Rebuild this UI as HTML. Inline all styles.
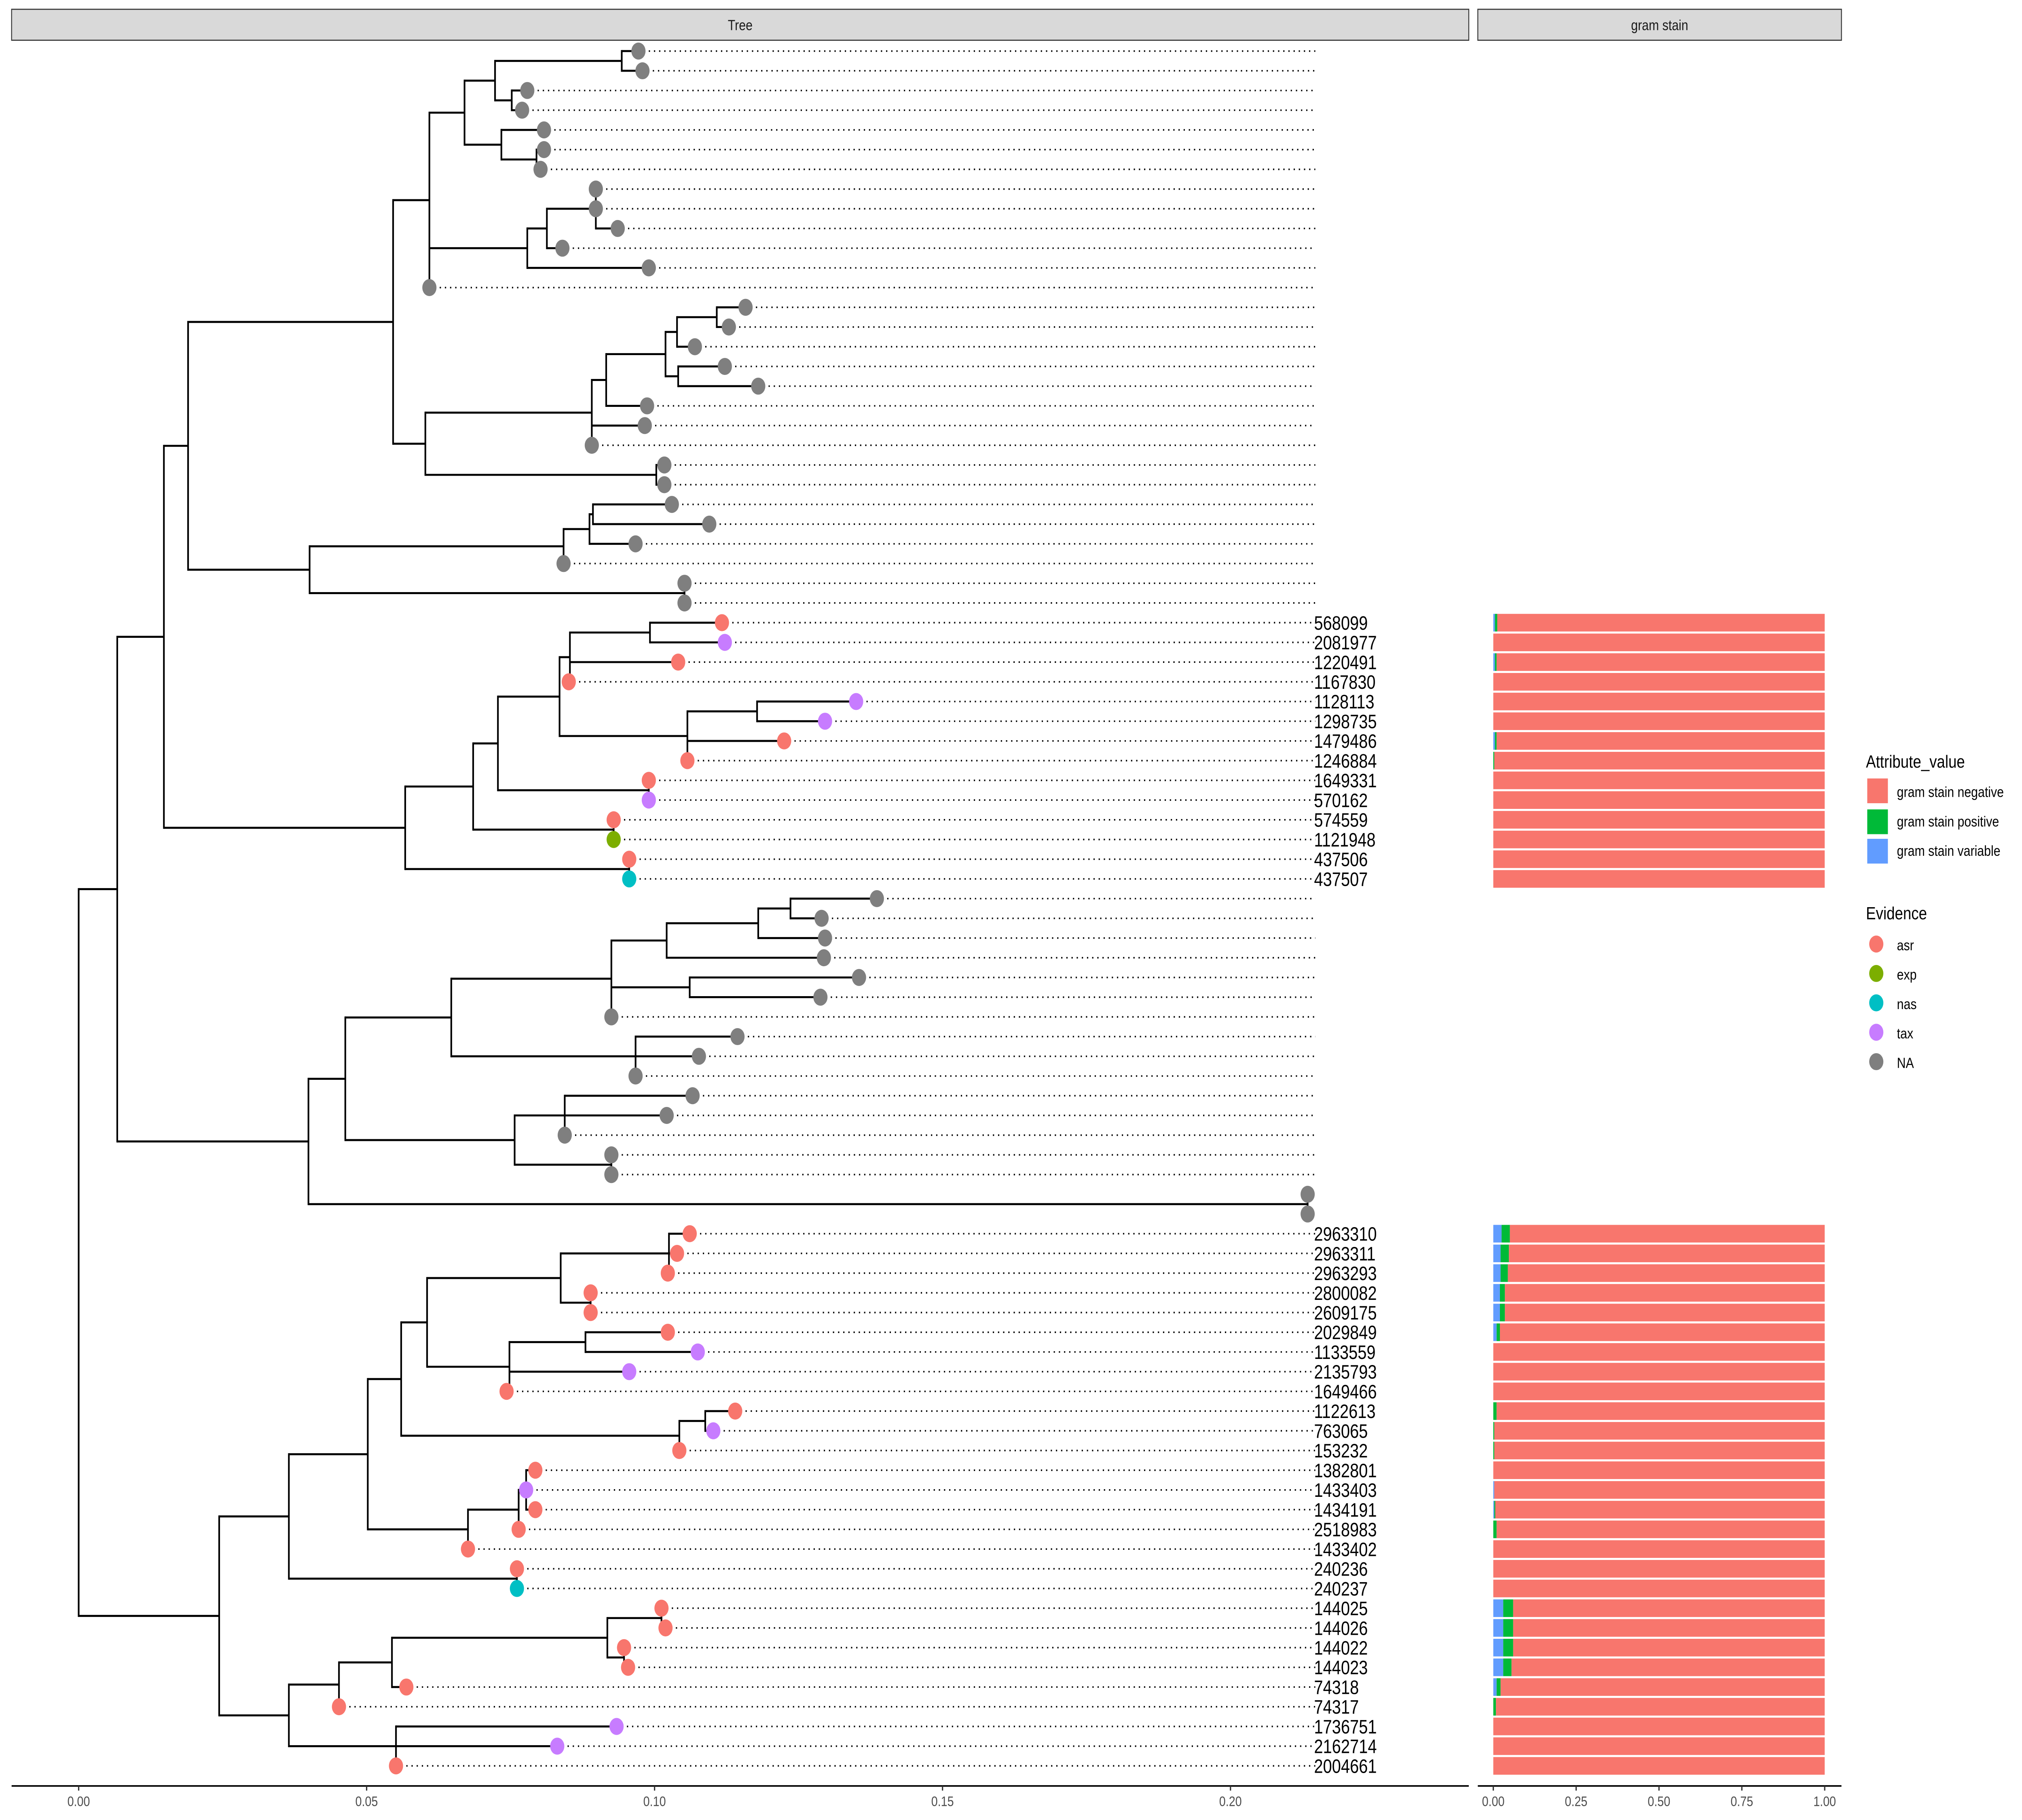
<!DOCTYPE html>
<html><head><meta charset="utf-8">
<style>
html,body{margin:0;padding:0;background:#fff;width:100%;height:100%;overflow:hidden;}
svg{display:block;font-family:"Liberation Sans",sans-serif;width:100vw;height:100vh;}
</style></head>
<body>
<svg id="chart" viewBox="0 0 1568 1176" preserveAspectRatio="none" xmlns="http://www.w3.org/2000/svg">
<rect x="0" y="0" width="1568" height="1176" fill="#fff"/>
<g>
<rect x="9" y="6" width="1130" height="20" fill="#d9d9d9" stroke="#333" stroke-width="0.7"/>
<text x="574" y="19.5" font-size="9.5" text-anchor="middle" fill="#1a1a1a">Tree</text>
</g>
<g>
<rect x="1146" y="6" width="282" height="20" fill="#d9d9d9" stroke="#333" stroke-width="0.7"/>
<text x="1287" y="19.5" font-size="9.5" text-anchor="middle" fill="#1a1a1a">gram stain</text>
</g>
<g id="tree"></g>
<g id="bars"></g>
<g id="axes"></g>
<g>
<text x="1447" y="496" font-size="11.5" fill="#000">Attribute_value</text>
<rect x="1448" y="503" width="16" height="16" fill="#F8766D"/>
<text x="1471" y="515" font-size="9.5">gram stain negative</text>
<rect x="1448" y="523" width="16" height="16" fill="#00BA38"/>
<text x="1471" y="534" font-size="9.5">gram stain positive</text>
<rect x="1448" y="542" width="16" height="16" fill="#619CFF"/>
<text x="1471" y="553" font-size="9.5">gram stain variable</text>
<text x="1447" y="594" font-size="11.5" fill="#000">Evidence</text>
<circle cx="1455" cy="610" r="5.5" fill="#F8766D"/><text x="1471" y="614" font-size="9.5">asr</text>
<circle cx="1455" cy="629" r="5.5" fill="#7CAE00"/><text x="1471" y="633" font-size="9.5">exp</text>
<circle cx="1455" cy="648" r="5.5" fill="#00BFC4"/><text x="1471" y="652" font-size="9.5">nas</text>
<circle cx="1455" cy="667" r="5.5" fill="#C77CFF"/><text x="1471" y="671" font-size="9.5">tax</text>
<circle cx="1455" cy="686" r="5.5" fill="#7f7f7f"/><text x="1471" y="690" font-size="9.5">NA</text>
</g>
</svg>
<script>
const tipDepth=[.0972,.0979,.0779,.0770,.0808,.0808,.0802,.0898,.0898,.0936,.0840,.0990,.0609,.1158,.1129,.1070,.1122,.1180,.0987,.0983,.0891,.1017,.1017,.1030,.1095,.0967,.0842,.1052,.1052,
.1117,.1122,.1041,.0851,.1350,.1296,.1225,.1057,.0990,.0990,.0929,.0929,.0956,.0956,
.1386,.1290,.1296,.1294,.1355,.1288,.0925,.1144,.1077,.0967,.1066,.1021,.0844,.0925,.0925,.2134,.2134,
.1061,.1039,.1023,.0889,.0889,.1023,.1075,.0956,.0743,.1140,.1102,.1043,.0793,.0777,.0793,.0764,.0676,.0761,.0761,.1012,.1019,.0947,.0954,.0569,.0452,.0934,.0831,.0551];
const evidence=[];
for(let i=0;i<88;i++)evidence.push('NA');
const evTop=['asr','tax','asr','asr','tax','tax','asr','asr','asr','tax','asr','exp','asr','nas'];
const evBot=['asr','asr','asr','asr','asr','asr','tax','tax','asr','asr','tax','asr','asr','tax','asr','asr','asr','asr','nas','asr','asr','asr','asr','asr','asr','tax','tax','asr'];
evTop.forEach((e,i)=>evidence[29+i]=e);
evBot.forEach((e,i)=>evidence[60+i]=e);
const labels=new Array(88).fill('');
const labTop=['568099','2081977','1220491','1167830','1128113','1298735','1479486','1246884','1649331','570162','574559','1121948','437506','437507'];
const labBot=['2963310','2963311','2963293','2800082','2609175','2029849','1133559','2135793','1649466','1122613','763065','153232','1382801','1433403','1434191','2518983','1433402','240236','240237','144025','144026','144022','144023','74318','74317','1736751','2162714','2004661'];
labTop.forEach((l,i)=>labels[29+i]=l);
labBot.forEach((l,i)=>labels[60+i]=l);
const gramVarTop=[.005,0,.005,0,0,0,.005,0,0,0,0,0,0,0];
const gramPosTop=[.007,0,.005,0,0,0,.005,.003,0,0,0,0,0,0];
const gramVarBot=[.025,.022,.022,.02,.02,.01,0,0,0,0,0,0,0,.003,.003,0,0,0,0,.03,.03,.03,.03,.01,0,0,0,0];
const gramPosBot=[.025,.025,.022,.015,.015,.01,0,0,0,.01,.003,.003,0,0,.003,.01,0,0,0,.03,.03,.03,.025,.012,.008,0,0,0];
const xTicks=[0,0.05,0.10,0.15,0.20];
const xTickLabels=['0.00','0.05','0.10','0.15','0.20'];
const gTicks=[0,0.25,0.5,0.75,1];
const gTickLabels=['0.00','0.25','0.50','0.75','1.00'];
const tree=[0,
 [.0067,
   [.0148,
     [.0190,
       [.0546,
         [.0609,
           [.0670,[.0723,[.0943,0,1],[.0752,2,3]],[.0734,4,[.0795,5,6]]],
           [.0779,[.0813,[.0898,7,8,9],10],11],
           12],
         [.0602,[.0891,[.0916,[.1019,[.1039,[.1108,13,14],15],[.1041,16,17]],18],19,20],[.1003,21,22]]],
       [.0401,[.0842,[.0887,[.0893,23,24],25],26],[.1052,27,28]]],
     [.0567,[.0685,[.0728,[.0835,[.0853,[.0992,29,30],31,32],[.1057,[.1178,33,34],35,36]],[.0990,37,38]],[.0929,39,40]],[.0956,41,42]]],
   [.0399,[.0463,[.0647,[.0925,[.1021,[.1180,[.1236,43,44],45],46],[.1061,47,48],49],[.0967,50,51,52]],[.0757,[.0844,53,54,55],[.0925,56,57]]],[.2134,58,59]]],
 [.0244,
   [.0365,[.0502,[.0560,[.0605,[.0837,[.1025,60,61,62],[.0889,63,64]],[.0748,[.0880,65,66],67,68]],[.1043,[.1088,69,70],71]],[.0676,[.0764,[.0777,72,73,74],75],76]],[.0761,77,78]],
   [.0365,[.0452,[.0544,[.0918,[.1012,79,80],[.0947,81,82]],83],84],[.0551,85,86,87]]]];

const NS='http://www.w3.org/2000/svg';
const X=v=>61+v*4466;
const Y=i=>33+i*12.736;
const G=v=>1158+v*257;
const evColor={asr:'#F8766D',exp:'#7CAE00',nas:'#00BFC4',tax:'#C77CFF',NA:'#7f7f7f'};
function mk(tag,attrs,parent){const e=document.createElementNS(NS,tag);for(const k in attrs)e.setAttribute(k,attrs[k]);parent.appendChild(e);return e;}
const tg=document.getElementById('tree');
const edges=mk('g',{},tg);


function draw(node,px){
  if(typeof node==='number'){
    const y=Y(node);
    const l=mk('line',{x1:X(px),y1:y,x2:X(tipDepth[node]),y2:y,stroke:'#000','stroke-width':1.3},edges);
    
    
    return y;
  }
  const d=node[0];
  const ys=node.slice(1).map(c=>draw(c,d));
  const y0=Math.min(...ys),y1=Math.max(...ys),ym=(y0+y1)/2;
  const v=mk('line',{x1:X(d),y1:y0,x2:X(d),y2:y1,stroke:'#000','stroke-width':1.3,'stroke-linecap':'square'},edges);
  
  
  if(px!==null){
    const h=mk('line',{x1:X(px),y1:ym,x2:X(d),y2:ym,stroke:'#000','stroke-width':1.3},edges);
    
    
  }
  return ym;
}
draw(tree,null);
for(let i=0;i<88;i++){
  const y=Y(i);
  const dl=mk('line',{x1:X(tipDepth[i]),y1:y,x2:1020,y2:y,stroke:'#000','stroke-width':1,'stroke-dasharray':'1,3'},tg);
  
  
}
for(let i=0;i<88;i++){
  const c=mk('circle',{cx:X(tipDepth[i]),cy:Y(i),r:5.5,fill:evColor[evidence[i]]},tg);
  
  
  if(labels[i]){
    const t=mk('text',{x:1019,y:Y(i)+4.5,'font-size':12.5,fill:'#000'},tg);
    t.textContent=labels[i];
    
    
  }
}
const bg=document.getElementById('bars');
function bar(row,vv,pp){
  const y=Y(row)-5.7,h=11.4;
  const segs=[[0,vv,'#619CFF'],[vv,vv+pp,'#00BA38'],[vv+pp,1,'#F8766D']];
  segs.forEach(s=>{
    if(s[1]-s[0]<=0)return;
    const r=mk('rect',{x:G(s[0]),y:y,width:G(s[1])-G(s[0]),height:h,fill:s[2]},bg);
    
    
  });
}
gramVarTop.forEach((v,i)=>bar(29+i,v,gramPosTop[i]));
gramVarBot.forEach((v,i)=>bar(60+i,v,gramPosBot[i]));
const ax=document.getElementById('axes');
const a1=mk('line',{x1:9,y1:1154,x2:1139,y2:1154,stroke:'#000','stroke-width':1},ax);


xTicks.forEach((v,i)=>{
  mk('line',{x1:X(v),y1:1154,x2:X(v),y2:1157,stroke:'#333'},ax);
  const t=mk('text',{x:X(v),y:1167,'font-size':9,'text-anchor':'middle',fill:'#4d4d4d'},ax);
  t.textContent=xTickLabels[i];
  
  
});
const a2=mk('line',{x1:1146,y1:1154,x2:1428,y2:1154,stroke:'#000','stroke-width':1},ax);


gTicks.forEach((v,i)=>{
  mk('line',{x1:G(v),y1:1154,x2:G(v),y2:1157,stroke:'#333'},ax);
  const t=mk('text',{x:G(v),y:1167,'font-size':9,'text-anchor':'middle',fill:'#4d4d4d'},ax);
  t.textContent=gTickLabels[i];
  
  
});
</script>
</body></html>
